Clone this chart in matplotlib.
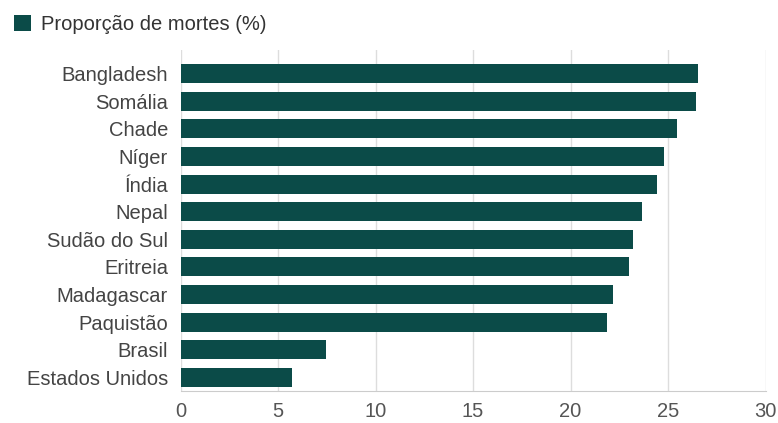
import matplotlib.pyplot as plt

# Countries (top to bottom) and share of deaths (%)
countries = ['Bangladesh', 'Somália', 'Chade', 'Níger', 'Índia', 'Nepal',
             'Sudão do Sul', 'Eritreia', 'Madagascar', 'Paquistão',
             'Brasil', 'Estados Unidos']
deaths = [26.55, 26.42, 25.48, 24.81, 24.42, 23.68,
          23.22, 23.02, 22.2, 21.89, 7.46, 5.73]
xticks = [0, 5, 10, 15, 20, 25, 30]

bar_color = '#0b4b48'
plt.rcParams['font.family'] = ['Liberation Sans', 'DejaVu Sans']

fig = plt.figure(figsize=(7.78, 4.23), dpi=100)
ax = fig.add_axes([180.5 / 778, 1 - 391 / 423, 585 / 778, 341 / 423])

y = list(range(len(countries)))
ax.barh(y, deaths, height=0.69, color=bar_color, zorder=3, label='Proporção de mortes (%)')

ax.set_xlim(0, 30)
ax.set_ylim(11.5, -0.86)
ax.set_yticks(y)
ax.set_yticklabels(countries, fontsize=14.5, color='#444444')
ax.set_xticks(xticks)
ax.set_xticklabels([str(t) for t in xticks], fontsize=14.5, color='#555555')

ax.tick_params(axis='y', length=0, pad=9)
ax.tick_params(axis='x', length=0, pad=8)
ax.grid(axis='x', color='#dddddd', linewidth=1, zorder=0)

for side in ['top', 'right', 'left']:
    ax.spines[side].set_visible(False)
ax.spines['bottom'].set_color('#cccccc')

ax.legend(loc='upper left', bbox_to_anchor=(6 / 778, 1 - 7 / 423),
          bbox_transform=fig.transFigure, frameon=False, fontsize=14.5,
          handlelength=0.85, handleheight=0.85, handletextpad=0.5,
          borderaxespad=0, labelcolor='#333333')

fig.savefig('out.png', dpi=100)
